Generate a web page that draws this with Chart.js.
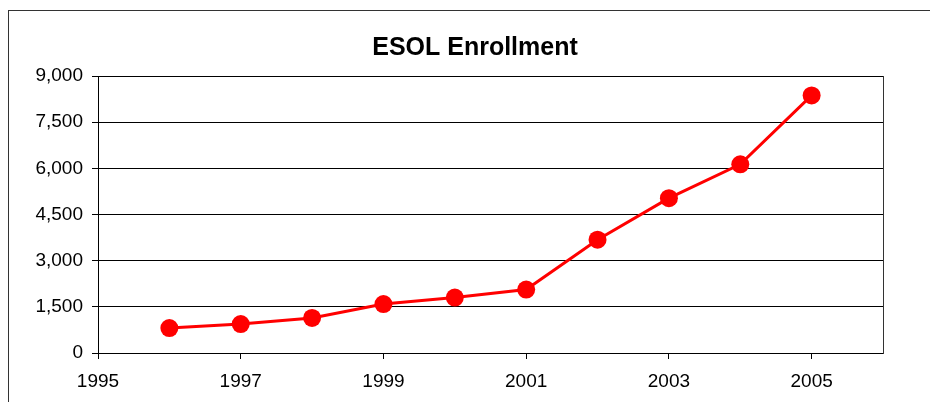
<!DOCTYPE html>
<html>
<head>
<meta charset="utf-8">
<title>ESOL Enrollment</title>
<script src="https://cdn.jsdelivr.net/npm/chart.js@4/dist/chart.umd.min.js"></script>
<style>
    html, body { margin: 0; padding: 0; background: #fff; overflow: hidden; }
    #wrap { position: relative; width: 930px; height: 402px; }
    #frame { position: absolute; left: 8px; top: 10px; width: 940px; height: 420px;
             border-top: 1px solid #333; border-left: 1px solid #333; }
    #esolChart { position: absolute; left: 0; top: 0; }
</style>
</head>
<body>
<div id="wrap">
    <div id="frame"></div>
    <canvas id="esolChart" width="930" height="402"></canvas>
</div>
<script>
var years = [1996, 1997, 1998, 1999, 2000, 2001, 2002, 2003, 2004, 2005];
var enrollment = [810, 940, 1140, 1590, 1800, 2060, 3680, 5030, 6130, 8370];
var xTicks = [1995, 1997, 1999, 2001, 2003, 2005];
var yMin = 0, yMax = 9000, yStep = 1500;
var xMin = 1995, xMax = 2006;

document.addEventListener("DOMContentLoaded", function () {
    var ctx = document.getElementById("esolChart").getContext("2d");
    var font = "'Liberation Sans', Arial, sans-serif";

    new Chart(ctx, {
        type: "line",
        data: {
            datasets: [
                {
                    label: "ESOL Enrollment",
                    data: years.map(function (y, i) { return { x: y, y: enrollment[i] }; }),
                    borderColor: "#ff0000",
                    backgroundColor: "#ff0000",
                    borderWidth: 3,
                    pointRadius: 9,
                    pointHoverRadius: 9,
                    pointBorderWidth: 0,
                    tension: 0,
                },
            ],
        },
        options: {
            responsive: false,
            devicePixelRatio: 1,
            animation: false,
            layout: { padding: { left: 20, right: 0, top: 0, bottom: 0 } },
            plugins: {
                legend: { display: false },
                tooltip: { enabled: false },
                title: {
                    display: true,
                    text: "ESOL Enrollment",
                    color: "#000",
                    font: { family: font, size: 25, weight: "bold" },
                    padding: { top: 33, bottom: 13 },
                },
            },
            scales: {
                x: {
                    type: "linear",
                    min: xMin,
                    max: xMax,
                    afterBuildTicks: function (scale) {
                        scale.ticks = xTicks.map(function (v) { return { value: v }; });
                    },
                    afterFit: function (scale) { scale.height = 49; },
                    grid: { drawOnChartArea: false, drawTicks: true, tickLength: 6, color: "#000" },
                    border: { display: true, color: "#000", width: 1 },
                    ticks: {
                        color: "#000",
                        padding: 11,
                        maxRotation: 0,
                        font: { family: font, size: 19 },
                        callback: function (v) { return String(v); },
                    },
                },
                y: {
                    min: yMin,
                    max: yMax,
                    afterFit: function (scale) { scale.width = 78; },
                    grid: { color: "#000", lineWidth: 1, tickLength: 6 },
                    border: { display: true, color: "#000", width: 1 },
                    ticks: {
                        stepSize: yStep,
                        color: "#000",
                        padding: 9,
                        font: { family: font, size: 19 },
                        callback: function (v) { return v.toLocaleString("en-US"); },
                    },
                },
                y2: {
                    position: "right",
                    min: yMin,
                    max: yMax,
                    afterFit: function (scale) { scale.width = 47; },
                    grid: { display: false },
                    border: { display: true, color: "#333", width: 1 },
                    ticks: { display: false },
                },
            },
        },
    });
});
</script>
</body>
</html>
